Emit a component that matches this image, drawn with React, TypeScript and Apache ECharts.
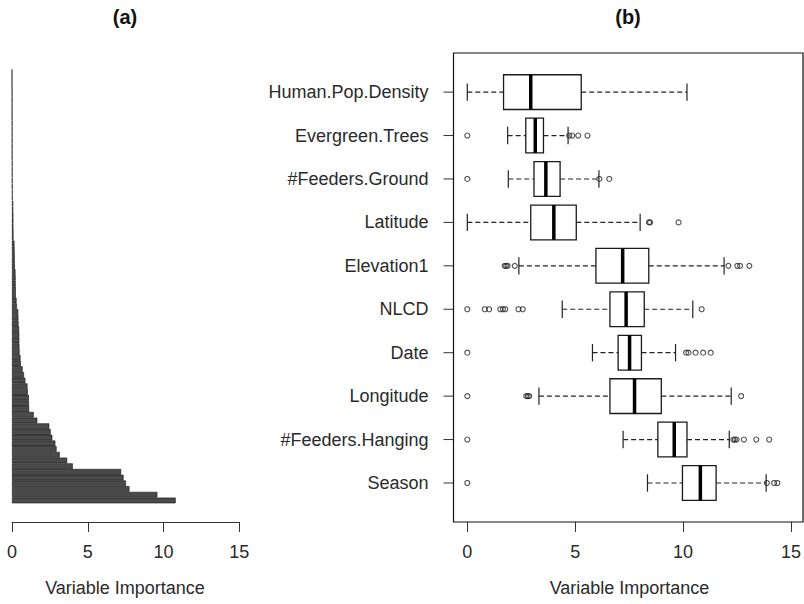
import React, { useEffect, useRef } from "react";
import * as echarts from "echarts";

// ---------- Panel (a): importance of all candidate variables (top -> bottom) ----------
const barValues = [
  0.0, 0.0, 0.0, 0.01, 0.01, 0.01, 0.01, 0.01, 0.01, 0.02, 0.02, 0.02, 0.02, 0.02, 0.02, 0.02,
  0.03, 0.03, 0.03, 0.03, 0.03, 0.04, 0.04,
  0.08, 0.08, 0.09, 0.09, 0.09, 0.1, 0.1,
  0.16, 0.17, 0.18, 0.18, 0.19,
  0.23, 0.24, 0.24, 0.25, 0.25,
  0.3, 0.32,
  0.41, 0.42, 0.43,
  0.47, 0.48, 0.48, 0.49, 0.5,
  0.56, 0.58,
  0.7, 0.79, 0.88,
  1.02, 1.04,
  1.11, 1.12, 1.13,
  1.43, 1.67,
  2.46, 2.55, 2.66,
  2.86, 2.94,
  3.15, 3.64, 4.01,
  7.2, 7.36, 7.52, 7.75,
  9.59, 10.8,
];
const barNames = barValues.map((_, i) => "V" + (i + 1));

// ---------- Panel (b): top 10 variables (top -> bottom) ----------
const boxVars = [
  "Human.Pop.Density",
  "Evergreen.Trees",
  "#Feeders.Ground",
  "Latitude",
  "Elevation1",
  "NLCD",
  "Date",
  "Longitude",
  "#Feeders.Hanging",
  "Season",
];
const whiskerLow = [0.0, 1.87, 1.9, 0.0, 2.39, 4.4, 5.8, 3.32, 7.22, 8.35];
const q1 = [1.68, 2.71, 3.09, 2.94, 5.96, 6.61, 6.99, 6.61, 8.83, 9.97];
const median = [2.94, 3.15, 3.64, 4.01, 7.2, 7.36, 7.52, 7.75, 9.59, 10.8];
const q3 = [5.28, 3.53, 4.3, 5.05, 8.41, 8.2, 8.07, 8.99, 10.18, 11.53];
const whiskerHigh = [10.18, 4.67, 6.1, 8.01, 11.9, 10.45, 9.65, 12.23, 12.14, 13.85];
const outliers = [
  [],
  [0, 4.72, 4.86, 5.14, 5.57],
  [0, 6.12, 6.58],
  [8.42, 8.47, 9.79],
  [1.73, 1.8, 1.87, 2.2, 12.1, 12.51, 12.64, 13.07],
  [0, 0.81, 1.01, 1.53, 1.65, 1.76, 2.37, 2.57, 10.86],
  [0, 10.14, 10.25, 10.58, 10.93, 11.28],
  [0, 2.73, 2.8, 2.87, 12.69],
  [0, 12.33, 12.4, 12.48, 12.82, 13.39, 13.99],
  [0, 13.88, 14.22, 14.37],
];
const xTicks = [0, 5, 10, 15];

const FONT = "'Liberation Sans', Arial, sans-serif";
const TXT = "#2a2a2a";
const FRAME_LEFT = 453.5;

export default function App() {
  const ref = useRef<HTMLDivElement>(null);
  useEffect(() => {
    const chart = echarts.init(ref.current as HTMLDivElement, null, { renderer: "svg" });

    const boxData = boxVars.map((_, i) => [i, whiskerLow[i], q1[i], median[i], q3[i], whiskerHigh[i]]);
    const outData: any[] = [];
    outliers.forEach((arr, i) => arr.forEach((v) => outData.push([v, boxVars[i]])));

    const titleStyle = (t: string) => ({
      text: t,
      fontSize: 20,
      fontWeight: "bold",
      fontFamily: "'Liberation Sans Narrow', 'Liberation Sans', Arial, sans-serif",
      fill: "#111",
      align: "center",
      verticalAlign: "middle",
    });

    const option: any = {
      animation: false,
      backgroundColor: "#fff",
      textStyle: { fontFamily: FONT },
      grid: [
        { left: 12, right: 804 - 239.3, top: 69.3, height: 434, containLabel: false },
        { left: 467.3, right: 804 - 794, top: 70.4, height: 434.3, containLabel: false },
        // helper grid ending at panel (b)'s frame; used only to place its y-axis tick marks
        { left: 300, width: FRAME_LEFT - 300, top: 70.4, height: 434.3, containLabel: false },
      ],
      xAxis: [
        {
          gridIndex: 0,
          type: "value",
          min: xTicks[0],
          max: xTicks[xTicks.length - 1],
          interval: 5,
          offset: 18.7,
          axisLine: { show: true, lineStyle: { color: "#333", width: 1 } },
          axisTick: { show: true, inside: false, length: 10, lineStyle: { color: "#333" } },
          axisLabel: { show: true, fontSize: 18, color: TXT, margin: 21, fontFamily: FONT },
          splitLine: { show: false },
        },
        {
          gridIndex: 1,
          type: "value",
          min: xTicks[0],
          max: xTicks[xTicks.length - 1],
          interval: 5,
          offset: 17.3,
          axisLine: { show: false },
          axisTick: { show: true, inside: false, length: 10, lineStyle: { color: "#333" } },
          axisLabel: { show: true, fontSize: 18, color: TXT, margin: 21, fontFamily: FONT },
          splitLine: { show: false },
        },
        { gridIndex: 2, type: "value", min: 0, max: 1, show: false },
      ],
      yAxis: [
        { gridIndex: 0, type: "category", data: barNames, inverse: true, show: false },
        {
          gridIndex: 1,
          type: "category",
          data: boxVars,
          inverse: true,
          offset: 13.8,
          axisLine: { show: false },
          axisTick: { show: false },
          axisLabel: { fontSize: 18, color: TXT, margin: 25, fontFamily: FONT },
          splitLine: { show: false },
        },
        { gridIndex: 2, type: "category", data: boxVars, inverse: true, show: false },
      ],
      series: [
        {
          type: "bar",
          xAxisIndex: 0,
          yAxisIndex: 0,
          data: barValues,
          barCategoryGap: "0%",
          itemStyle: { color: "#4a4a4a", borderColor: "#111", borderWidth: 0.6 },
          silent: true,
        },
        {
          type: "custom",
          xAxisIndex: 1,
          yAxisIndex: 1,
          data: boxData,
          encode: { x: [1, 2, 3, 4, 5], y: 0 },
          renderItem: (params: any, api: any) => {
            const cat = api.value(0);
            const pLo = api.coord([api.value(1), cat]);
            const pQ1 = api.coord([api.value(2), cat]);
            const pMed = api.coord([api.value(3), cat]);
            const pQ3 = api.coord([api.value(4), cat]);
            const pHi = api.coord([api.value(5), cat]);
            const y = pMed[1];
            const band = api.size([0, 1])[1];
            const bh = band * 0.8;
            const sh = band * 0.4;
            const dash = { stroke: "#222", lineWidth: 1.2, lineDash: [5, 3], fill: null };
            const solid = { stroke: "#222", lineWidth: 1.2, fill: null };
            return {
              type: "group",
              children: [
                { type: "line", shape: { x1: pLo[0], y1: y, x2: pQ1[0], y2: y }, style: dash },
                { type: "line", shape: { x1: pQ3[0], y1: y, x2: pHi[0], y2: y }, style: dash },
                { type: "line", shape: { x1: pLo[0], y1: y - sh / 2, x2: pLo[0], y2: y + sh / 2 }, style: solid },
                { type: "line", shape: { x1: pHi[0], y1: y - sh / 2, x2: pHi[0], y2: y + sh / 2 }, style: solid },
                {
                  type: "rect",
                  shape: { x: pQ1[0], y: y - bh / 2, width: pQ3[0] - pQ1[0], height: bh },
                  style: { fill: "#fff", stroke: "#1a1a1a", lineWidth: 1.3 },
                },
                {
                  type: "line",
                  shape: { x1: pMed[0], y1: y - bh / 2, x2: pMed[0], y2: y + bh / 2 },
                  style: { stroke: "#000", lineWidth: 3.5 },
                },
              ],
            };
          },
          silent: true,
        },
        {
          type: "scatter",
          xAxisIndex: 1,
          yAxisIndex: 1,
          data: outData,
          symbol: "circle",
          symbolSize: 5,
          itemStyle: { color: "rgba(255,255,255,0)", borderColor: "#222", borderWidth: 1.1 },
          silent: true,
        },
        {
          // y-axis tick marks of panel (b): 10px lines ending at the frame, at each category position
          type: "custom",
          xAxisIndex: 2,
          yAxisIndex: 2,
          data: boxVars.map((_, i) => [0.5, i]),
          encode: { x: 0, y: 1 },
          renderItem: (params: any, api: any) => {
            const cat = api.value(1);
            const end = api.coord([1, cat]);
            return {
              type: "line",
              shape: { x1: end[0] - 10, y1: end[1], x2: end[0], y2: end[1] },
              style: { stroke: "#333", lineWidth: 1 },
            };
          },
          silent: true,
        },
      ],
      graphic: [
        {
          type: "rect",
          shape: { x: FRAME_LEFT, y: 53, width: 349.5, height: 469 },
          style: { fill: null, stroke: "#111", lineWidth: 1.2 },
          silent: true,
          z: 10,
        },
        { type: "text", x: 125, y: 17, style: titleStyle("(a)") },
        { type: "text", x: 628, y: 17, style: titleStyle("(b)") },
        {
          type: "text",
          x: 125,
          y: 588,
          style: { text: "Variable Importance", fontSize: 18, fontFamily: FONT, fill: TXT, align: "center", verticalAlign: "middle" },
        },
        {
          type: "text",
          x: 629.5,
          y: 588,
          style: { text: "Variable Importance", fontSize: 18, fontFamily: FONT, fill: TXT, align: "center", verticalAlign: "middle" },
        },
      ],
    };
    chart.setOption(option);
    return () => chart.dispose();
  }, []);
  return <div ref={ref} style={{ position: "fixed", left: 0, top: 0, width: 804, height: 604 }} />;
}
